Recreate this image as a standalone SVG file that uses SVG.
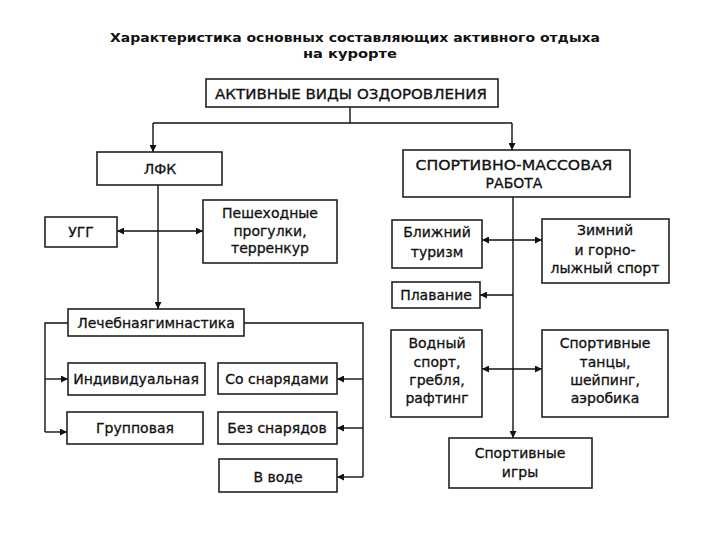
<svg xmlns="http://www.w3.org/2000/svg" width="720" height="540" viewBox="0 0 720 540">
<defs>
<marker id="ah" viewBox="0 0 10 10" refX="10" refY="5" markerWidth="9" markerHeight="7" markerUnits="userSpaceOnUse" orient="auto-start-reverse">
<path d="M0,0 L10,5 L0,10 z" fill="#111"/>
</marker>
<style>
.b{fill:#fff;stroke:#222;stroke-width:1.6}
.t{font-family:"DejaVu Sans","Liberation Sans",Arial,sans-serif;font-size:14px;fill:#111;stroke:#111;stroke-width:0.3;text-anchor:middle;dominant-baseline:central}
.ti{font-family:"DejaVu Sans","Liberation Sans",Arial,sans-serif;font-size:13px;font-weight:bold;fill:#111;text-anchor:middle;dominant-baseline:central}
.c{fill:none;stroke:#111;stroke-width:1.4}
</style>
</defs>
<rect width="720" height="540" fill="#fff"/>
<g id="title">
<text class="ti" x="355" y="37" textLength="490" lengthAdjust="spacingAndGlyphs">Характеристика основных составляющих активного отдыха</text>
<text class="ti" x="350" y="53" textLength="94" lengthAdjust="spacingAndGlyphs">на курорте</text>
</g>
<g id="connectors">
<path class="c" d="M350,107 V123"/>
<path class="c" d="M153,123 H512"/>
<path class="c" d="M153,123 V152" marker-end="url(#ah)"/>
<path class="c" d="M512,123 V150" marker-end="url(#ah)"/>
<path class="c" d="M158,185 V309" marker-end="url(#ah)"/>
<path class="c" d="M117,231 H203" marker-start="url(#ah)" marker-end="url(#ah)"/>
<path class="c" d="M68,323 H45 V432"/>
<path class="c" d="M45,379 H68" marker-end="url(#ah)"/>
<path class="c" d="M45,432 H67" marker-end="url(#ah)"/>
<path class="c" d="M244,323 H363 V477"/>
<path class="c" d="M363,379 H337" marker-end="url(#ah)"/>
<path class="c" d="M363,428 H337" marker-end="url(#ah)"/>
<path class="c" d="M363,477 H337" marker-end="url(#ah)"/>
<path class="c" d="M513,197 V438" marker-end="url(#ah)"/>
<path class="c" d="M482,240 H542" marker-start="url(#ah)" marker-end="url(#ah)"/>
<path class="c" d="M513,295 H480" marker-end="url(#ah)"/>
<path class="c" d="M482,369 H542" marker-start="url(#ah)" marker-end="url(#ah)"/>
</g>
<g id="n-active"><rect class="b" x="206" y="79" width="292" height="28"/><text class="t" x="351" y="94" textLength="272" lengthAdjust="spacingAndGlyphs">АКТИВНЫЕ ВИДЫ ОЗДОРОВЛЕНИЯ</text></g>
<g id="n-lfk"><rect class="b" x="97" y="152" width="125" height="33"/><text class="t" x="160" y="169">ЛФК</text></g>
<g id="n-ugg"><rect class="b" x="45" y="217" width="72" height="30"/><text class="t" x="81" y="232">УГГ</text></g>
<g id="n-walk"><rect class="b" x="203" y="200" width="134" height="63"/><text class="t" x="270" y="213">Пешеходные</text><text class="t" x="270" y="231">прогулки,</text><text class="t" x="270" y="248">терренкур</text></g>
<g id="n-sport"><rect class="b" x="403" y="150" width="227" height="47"/><text class="t" x="514" y="165" textLength="197" lengthAdjust="spacingAndGlyphs">СПОРТИВНО-МАССОВАЯ</text><text class="t" x="514" y="183">РАБОТА</text></g>
<g id="n-tour"><rect class="b" x="392" y="220" width="90" height="48"/><text class="t" x="437" y="232">Ближний</text><text class="t" x="437" y="252">туризм</text></g>
<g id="n-winter"><rect class="b" x="542" y="219" width="127" height="64"/><text class="t" x="605" y="230">Зимний</text><text class="t" x="605" y="250">и горно-</text><text class="t" x="605" y="268">лыжный спорт</text></g>
<g id="n-swim"><rect class="b" x="392" y="282" width="88" height="26"/><text class="t" x="436" y="295">Плавание</text></g>
<g id="n-water"><rect class="b" x="391" y="330" width="91" height="87"/><text class="t" x="437" y="343">Водный</text><text class="t" x="437" y="362">спорт,</text><text class="t" x="437" y="380">гребля,</text><text class="t" x="437" y="398">рафтинг</text></g>
<g id="n-dance"><rect class="b" x="542" y="330" width="126" height="87"/><text class="t" x="605" y="343">Спортивные</text><text class="t" x="605" y="362">танцы,</text><text class="t" x="605" y="380">шейпинг,</text><text class="t" x="605" y="398">аэробика</text></g>
<g id="n-games"><rect class="b" x="449" y="438" width="143" height="50"/><text class="t" x="520" y="453">Спортивные</text><text class="t" x="520" y="472">игры</text></g>
<g id="n-gym"><rect class="b" x="68" y="309" width="176" height="27"/><text class="t" x="156" y="323">Лечебнаягимнастика</text></g>
<g id="n-indiv"><rect class="b" x="68" y="363" width="137" height="32"/><text class="t" x="136" y="379">Индивидуальная</text></g>
<g id="n-group"><rect class="b" x="67" y="412" width="136" height="32"/><text class="t" x="135" y="428">Групповая</text></g>
<g id="n-with"><rect class="b" x="218" y="363" width="119" height="31"/><text class="t" x="277" y="379">Со снарядами</text></g>
<g id="n-without"><rect class="b" x="218" y="412" width="119" height="32"/><text class="t" x="277" y="428">Без снарядов</text></g>
<g id="n-water2"><rect class="b" x="219" y="459" width="118" height="33"/><text class="t" x="278" y="477">В воде</text></g>
</svg>
